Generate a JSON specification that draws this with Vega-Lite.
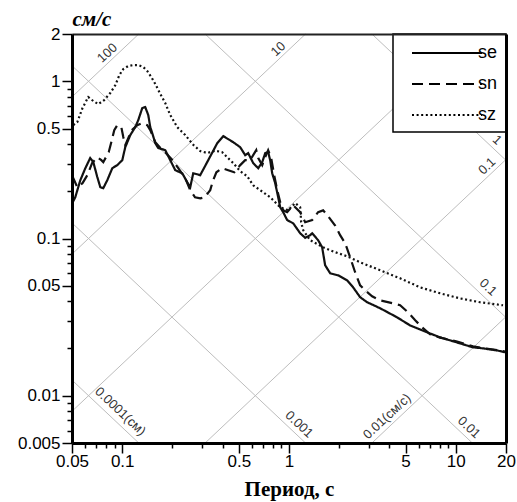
{
  "$schema": "https://vega.github.io/schema/vega-lite/v6.json",
  "width": 434,
  "height": 409,
  "autosize": {"type": "none"},
  "padding": {"left": 72, "top": 34, "right": 11, "bottom": 59},
  "background": "white",
  "config": {
    "view": {"stroke": null},
    "legend": {
      "orient": "top-right",
      "offset": 0,
      "strokeColor": "black",
      "strokeWidth": 1.5,
      "fillColor": "white",
      "padding": 8,
      "symbolType": "M-3.5,0L3.5,0",
      "symbolSize": 400,
      "symbolStrokeWidth": 2,
      "symbolStrokeColor": "black",
      "symbolOffset": 35,
      "labelOffset": 20,
      "labelFont": "Liberation Sans",
      "labelFontSize": 18,
      "labelColor": "black",
      "rowPadding": 11
    }
  },
  "resolve": {"axis": {"x": "independent", "y": "independent"}},
  "datasets": {
    "grid": [
      {"g": "a100", "T": 0.05, "V": 0.7958}, {"g": "a100", "T": 0.12566, "V": 2},
      {"g": "a10", "T": 0.05, "V": 0.07958}, {"g": "a10", "T": 1.2566, "V": 2},
      {"g": "a1", "T": 0.05, "V": 0.007958}, {"g": "a1", "T": 12.566, "V": 2},
      {"g": "a0.1", "T": 0.31416, "V": 0.005}, {"g": "a0.1", "T": 20, "V": 0.31831},
      {"g": "a0.01", "T": 3.1416, "V": 0.005}, {"g": "a0.01", "T": 20, "V": 0.031831},
      {"g": "d1", "T": 3.1416, "V": 2}, {"g": "d1", "T": 20, "V": 0.31416},
      {"g": "d0.1", "T": 0.31416, "V": 2}, {"g": "d0.1", "T": 20, "V": 0.031416},
      {"g": "d0.01", "T": 0.05, "V": 1.2566}, {"g": "d0.01", "T": 12.566, "V": 0.005},
      {"g": "d0.001", "T": 0.05, "V": 0.12566}, {"g": "d0.001", "T": 1.2566, "V": 0.005},
      {"g": "d0.0001", "T": 0.05, "V": 0.012566}, {"g": "d0.0001", "T": 0.12566, "V": 0.005}
    ],
    "labels": [
      {"k": "acc", "T": 0.0814, "V": 1.513, "text": "100"},
      {"k": "acc", "T": 0.8614, "V": 1.605, "text": "10"},
      {"k": "acc", "T": 15.39, "V": 0.2885, "text": "0.1"},
      {"k": "acc", "T": 3.872, "V": 0.00738, "text": "0.01(см/с)"},
      {"k": "dis", "T": 17.67, "V": 0.423, "text": "1"},
      {"k": "dis", "T": 15.61, "V": 0.0489, "text": "0.1"},
      {"k": "dis", "T": 12.01, "V": 0.00628, "text": "0.01"},
      {"k": "dis", "T": 1.15, "V": 0.00656, "text": "0.001"},
      {"k": "dis", "T": 0.0974, "V": 0.00794, "text": "0.0001(см)"}
    ],
    "curves": [
      {"s": "se", "T": 0.0502, "V": 0.168}, {"s": "se", "T": 0.0523, "V": 0.183}, {"s": "se", "T": 0.0561, "V": 0.235},
      {"s": "se", "T": 0.0601, "V": 0.28}, {"s": "se", "T": 0.0643, "V": 0.325}, {"s": "se", "T": 0.0671, "V": 0.306},
      {"s": "se", "T": 0.0709, "V": 0.246}, {"s": "se", "T": 0.0739, "V": 0.212}, {"s": "se", "T": 0.077, "V": 0.209},
      {"s": "se", "T": 0.0814, "V": 0.235}, {"s": "se", "T": 0.0872, "V": 0.28}, {"s": "se", "T": 0.0934, "V": 0.293},
      {"s": "se", "T": 0.1001, "V": 0.315}, {"s": "se", "T": 0.1043, "V": 0.381}, {"s": "se", "T": 0.1118, "V": 0.455},
      {"s": "se", "T": 0.1197, "V": 0.511}, {"s": "se", "T": 0.1248, "V": 0.566}, {"s": "se", "T": 0.1319, "V": 0.676},
      {"s": "se", "T": 0.1374, "V": 0.686}, {"s": "se", "T": 0.1433, "V": 0.61}, {"s": "se", "T": 0.1473, "V": 0.511},
      {"s": "se", "T": 0.1514, "V": 0.468}, {"s": "se", "T": 0.1579, "V": 0.404}, {"s": "se", "T": 0.1645, "V": 0.376},
      {"s": "se", "T": 0.1811, "V": 0.365}, {"s": "se", "T": 0.1941, "V": 0.315}, {"s": "se", "T": 0.208, "V": 0.272},
      {"s": "se", "T": 0.2291, "V": 0.26}, {"s": "se", "T": 0.2454, "V": 0.228}, {"s": "se", "T": 0.2558, "V": 0.212},
      {"s": "se", "T": 0.2666, "V": 0.26}, {"s": "se", "T": 0.2936, "V": 0.253}, {"s": "se", "T": 0.3279, "V": 0.315},
      {"s": "se", "T": 0.3714, "V": 0.404}, {"s": "se", "T": 0.4035, "V": 0.448}, {"s": "se", "T": 0.463, "V": 0.41},
      {"s": "se", "T": 0.5098, "V": 0.381}, {"s": "se", "T": 0.5463, "V": 0.339}, {"s": "se", "T": 0.5694, "V": 0.349},
      {"s": "se", "T": 0.61, "V": 0.302}, {"s": "se", "T": 0.6536, "V": 0.28}, {"s": "se", "T": 0.6908, "V": 0.306},
      {"s": "se", "T": 0.72, "V": 0.349}, {"s": "se", "T": 0.7503, "V": 0.354}, {"s": "se", "T": 0.7714, "V": 0.315},
      {"s": "se", "T": 0.793, "V": 0.26}, {"s": "se", "T": 0.8265, "V": 0.225}, {"s": "se", "T": 0.8614, "V": 0.183},
      {"s": "se", "T": 0.8855, "V": 0.158}, {"s": "se", "T": 0.9231, "V": 0.147}, {"s": "se", "T": 0.975, "V": 0.131},
      {"s": "se", "T": 1.059, "V": 0.125}, {"s": "se", "T": 1.167, "V": 0.108}, {"s": "se", "T": 1.25, "V": 0.101},
      {"s": "se", "T": 1.339, "V": 0.105}, {"s": "se", "T": 1.377, "V": 0.108}, {"s": "se", "T": 1.495, "V": 0.0975},
      {"s": "se", "T": 1.58, "V": 0.088}, {"s": "se", "T": 1.647, "V": 0.0676}, {"s": "se", "T": 1.765, "V": 0.0601},
      {"s": "se", "T": 1.971, "V": 0.0583}, {"s": "se", "T": 2.231, "V": 0.0542}, {"s": "se", "T": 2.424, "V": 0.0489},
      {"s": "se", "T": 2.67, "V": 0.0423}, {"s": "se", "T": 2.941, "V": 0.0393}, {"s": "se", "T": 3.518, "V": 0.036},
      {"s": "se", "T": 4.449, "V": 0.0315}, {"s": "se", "T": 5.32, "V": 0.028}, {"s": "se", "T": 6.729, "V": 0.0253},
      {"s": "se", "T": 8.051, "V": 0.0235}, {"s": "se", "T": 10.18, "V": 0.0218}, {"s": "se", "T": 12.69, "V": 0.0203},
      {"s": "se", "T": 14.57, "V": 0.02}, {"s": "se", "T": 17.67, "V": 0.0194}, {"s": "se", "T": 19.74, "V": 0.0189},
      {"s": "sn", "T": 0.0502, "V": 0.25}, {"s": "sn", "T": 0.0538, "V": 0.212}, {"s": "sn", "T": 0.0578, "V": 0.225},
      {"s": "sn", "T": 0.0618, "V": 0.253}, {"s": "sn", "T": 0.066, "V": 0.302}, {"s": "sn", "T": 0.0709, "V": 0.329},
      {"s": "sn", "T": 0.075, "V": 0.315}, {"s": "sn", "T": 0.077, "V": 0.306}, {"s": "sn", "T": 0.083, "V": 0.354},
      {"s": "sn", "T": 0.086, "V": 0.41}, {"s": "sn", "T": 0.0896, "V": 0.489}, {"s": "sn", "T": 0.0934, "V": 0.526},
      {"s": "sn", "T": 0.0988, "V": 0.511}, {"s": "sn", "T": 0.1015, "V": 0.442}, {"s": "sn", "T": 0.1043, "V": 0.393},
      {"s": "sn", "T": 0.1087, "V": 0.435}, {"s": "sn", "T": 0.1141, "V": 0.489}, {"s": "sn", "T": 0.1231, "V": 0.526},
      {"s": "sn", "T": 0.1319, "V": 0.542}, {"s": "sn", "T": 0.1413, "V": 0.526}, {"s": "sn", "T": 0.1473, "V": 0.489},
      {"s": "sn", "T": 0.1579, "V": 0.41}, {"s": "sn", "T": 0.1694, "V": 0.376}, {"s": "sn", "T": 0.1811, "V": 0.354},
      {"s": "sn", "T": 0.2006, "V": 0.315}, {"s": "sn", "T": 0.2168, "V": 0.28}, {"s": "sn", "T": 0.2387, "V": 0.242},
      {"s": "sn", "T": 0.2558, "V": 0.203}, {"s": "sn", "T": 0.2734, "V": 0.183}, {"s": "sn", "T": 0.2936, "V": 0.18},
      {"s": "sn", "T": 0.312, "V": 0.183}, {"s": "sn", "T": 0.337, "V": 0.203}, {"s": "sn", "T": 0.351, "V": 0.235},
      {"s": "sn", "T": 0.367, "V": 0.264}, {"s": "sn", "T": 0.398, "V": 0.28}, {"s": "sn", "T": 0.432, "V": 0.272},
      {"s": "sn", "T": 0.47, "V": 0.264}, {"s": "sn", "T": 0.51, "V": 0.293}, {"s": "sn", "T": 0.546, "V": 0.315},
      {"s": "sn", "T": 0.585, "V": 0.315}, {"s": "sn", "T": 0.61, "V": 0.339}, {"s": "sn", "T": 0.636, "V": 0.365},
      {"s": "sn", "T": 0.654, "V": 0.325}, {"s": "sn", "T": 0.691, "V": 0.293}, {"s": "sn", "T": 0.72, "V": 0.329},
      {"s": "sn", "T": 0.75, "V": 0.365}, {"s": "sn", "T": 0.782, "V": 0.325}, {"s": "sn", "T": 0.815, "V": 0.253},
      {"s": "sn", "T": 0.85, "V": 0.203}, {"s": "sn", "T": 0.886, "V": 0.17}, {"s": "sn", "T": 0.923, "V": 0.151},
      {"s": "sn", "T": 0.975, "V": 0.147}, {"s": "sn", "T": 1.059, "V": 0.163}, {"s": "sn", "T": 1.167, "V": 0.147},
      {"s": "sn", "T": 1.25, "V": 0.127}, {"s": "sn", "T": 1.377, "V": 0.131}, {"s": "sn", "T": 1.495, "V": 0.147},
      {"s": "sn", "T": 1.602, "V": 0.151}, {"s": "sn", "T": 1.693, "V": 0.141}, {"s": "sn", "T": 1.891, "V": 0.121},
      {"s": "sn", "T": 2.026, "V": 0.105}, {"s": "sn", "T": 2.171, "V": 0.0933}, {"s": "sn", "T": 2.325, "V": 0.076},
      {"s": "sn", "T": 2.491, "V": 0.061}, {"s": "sn", "T": 2.67, "V": 0.0504}, {"s": "sn", "T": 2.861, "V": 0.0468},
      {"s": "sn", "T": 3.15, "V": 0.0429}, {"s": "sn", "T": 3.518, "V": 0.0404}, {"s": "sn", "T": 4.209, "V": 0.0387},
      {"s": "sn", "T": 4.637, "V": 0.0376}, {"s": "sn", "T": 5.17, "V": 0.0339}, {"s": "sn", "T": 5.71, "V": 0.0302},
      {"s": "sn", "T": 6.28, "V": 0.0272}, {"s": "sn", "T": 7.014, "V": 0.0246}, {"s": "sn", "T": 8.05, "V": 0.0234},
      {"s": "sn", "T": 10.18, "V": 0.0221}, {"s": "sn", "T": 12.69, "V": 0.0206}, {"s": "sn", "T": 14.98, "V": 0.02},
      {"s": "sn", "T": 17.67, "V": 0.0195}, {"s": "sn", "T": 19.74, "V": 0.0191},
      {"s": "sz", "T": 0.0509, "V": 0.526}, {"s": "sz", "T": 0.0538, "V": 0.55}, {"s": "sz", "T": 0.0578, "V": 0.676},
      {"s": "sz", "T": 0.0626, "V": 0.794}, {"s": "sz", "T": 0.0671, "V": 0.749}, {"s": "sz", "T": 0.0719, "V": 0.716},
      {"s": "sz", "T": 0.078, "V": 0.76}, {"s": "sz", "T": 0.0848, "V": 0.842}, {"s": "sz", "T": 0.091, "V": 0.946},
      {"s": "sz", "T": 0.0962, "V": 1.097}, {"s": "sz", "T": 0.1015, "V": 1.197}, {"s": "sz", "T": 0.1087, "V": 1.251},
      {"s": "sz", "T": 0.1165, "V": 1.269}, {"s": "sz", "T": 0.1248, "V": 1.269}, {"s": "sz", "T": 0.1337, "V": 1.233},
      {"s": "sz", "T": 0.1413, "V": 1.162}, {"s": "sz", "T": 0.1494, "V": 1.065}, {"s": "sz", "T": 0.1579, "V": 0.961},
      {"s": "sz", "T": 0.1694, "V": 0.829}, {"s": "sz", "T": 0.1811, "V": 0.727}, {"s": "sz", "T": 0.1941, "V": 0.61},
      {"s": "sz", "T": 0.2138, "V": 0.511}, {"s": "sz", "T": 0.2387, "V": 0.455}, {"s": "sz", "T": 0.2666, "V": 0.395},
      {"s": "sz", "T": 0.2936, "V": 0.36}, {"s": "sz", "T": 0.3234, "V": 0.35}, {"s": "sz", "T": 0.3613, "V": 0.362},
      {"s": "sz", "T": 0.3979, "V": 0.354}, {"s": "sz", "T": 0.426, "V": 0.329}, {"s": "sz", "T": 0.463, "V": 0.302},
      {"s": "sz", "T": 0.5098, "V": 0.268}, {"s": "sz", "T": 0.5616, "V": 0.249}, {"s": "sz", "T": 0.61, "V": 0.218},
      {"s": "sz", "T": 0.672, "V": 0.203}, {"s": "sz", "T": 0.7714, "V": 0.183}, {"s": "sz", "T": 0.8855, "V": 0.158},
      {"s": "sz", "T": 0.9886, "V": 0.151}, {"s": "sz", "T": 1.089, "V": 0.168}, {"s": "sz", "T": 1.167, "V": 0.158},
      {"s": "sz", "T": 1.183, "V": 0.127}, {"s": "sz", "T": 1.216, "V": 0.113}, {"s": "sz", "T": 1.339, "V": 0.0975},
      {"s": "sz", "T": 1.602, "V": 0.088}, {"s": "sz", "T": 1.891, "V": 0.0818}, {"s": "sz", "T": 2.231, "V": 0.0771},
      {"s": "sz", "T": 2.67, "V": 0.0706}, {"s": "sz", "T": 3.518, "V": 0.0628}, {"s": "sz", "T": 4.637, "V": 0.0558},
      {"s": "sz", "T": 6.108, "V": 0.0489}, {"s": "sz", "T": 8.051, "V": 0.0448}, {"s": "sz", "T": 10.61, "V": 0.0416},
      {"s": "sz", "T": 13.98, "V": 0.0393}, {"s": "sz", "T": 19.2, "V": 0.0376}
    ]
  },
  "layer": [
    {
      "data": {"name": "grid"},
      "mark": {"type": "line", "color": "#bdbdbd", "strokeWidth": 1},
      "encoding": {
        "x": {
          "field": "T", "type": "quantitative",
          "scale": {"type": "log", "domain": [0.05, 20], "nice": false},
          "axis": {
            "orient": "bottom", "title": null, "labels": false, "domain": false, "ticks": true, "grid": false, "zindex": 1,
            "values": [0.06, 0.07, 0.08, 0.09, 0.2, 0.3, 0.4, 0.6, 0.7, 0.8, 0.9, 2, 3, 4, 6, 7, 8, 9],
            "tickSize": 5, "tickColor": "black", "tickWidth": 1.5
          }
        },
        "y": {
          "field": "V", "type": "quantitative",
          "scale": {"type": "log", "domain": [0.005, 2], "nice": false},
          "axis": {
            "orient": "left", "title": null, "labels": false, "domain": false, "ticks": true, "grid": false, "zindex": 1,
            "values": [0.006, 0.007, 0.008, 0.009, 0.02, 0.03, 0.04, 0.06, 0.07, 0.08, 0.09, 0.2, 0.3, 0.4, 0.6, 0.7, 0.8, 0.9],
            "tickSize": 5, "tickColor": "black", "tickWidth": 1.5
          }
        },
        "detail": {"field": "g"}
      }
    },
    {
      "data": {"name": "labels"},
      "transform": [{"filter": "datum.k === 'acc'"}],
      "mark": {"type": "text", "angle": 317, "font": "Liberation Sans", "fontSize": 13, "color": "#333", "align": "center", "baseline": "middle"},
      "encoding": {
        "x": {"field": "T", "type": "quantitative",
              "axis": {"orient": "top", "title": null, "labels": false, "ticks": false, "grid": false, "domain": true, "domainColor": "#222", "domainWidth": 2, "zindex": 1}},
        "y": {"field": "V", "type": "quantitative",
              "axis": {"orient": "right", "title": null, "labels": false, "ticks": false, "grid": false, "domain": true, "domainColor": "black", "domainWidth": 3, "zindex": 1}},
        "text": {"field": "text"}
      }
    },
    {
      "data": {"name": "labels"},
      "transform": [{"filter": "datum.k === 'dis'"}],
      "mark": {"type": "text", "angle": 43, "font": "Liberation Sans", "fontSize": 13, "color": "#333", "align": "center", "baseline": "middle"},
      "encoding": {
        "x": {"field": "T", "type": "quantitative", "axis": null},
        "y": {"field": "V", "type": "quantitative", "axis": null},
        "text": {"field": "text"}
      }
    },
    {
      "data": {"name": "curves"},
      "mark": {"type": "line", "color": "#111", "strokeWidth": 2.2},
      "encoding": {
        "x": {
          "field": "T", "type": "quantitative",
          "scale": {"type": "log", "domain": [0.05, 20], "nice": false},
          "axis": {
            "orient": "bottom",
            "title": "Период, с",
            "values": [0.05, 0.1, 0.5, 1, 5, 10, 20],
            "format": "~g",
            "ticks": true, "domain": true, "zindex": 1,
            "tickSize": 10, "tickColor": "black", "tickWidth": 1.5,
            "domainColor": "black", "domainWidth": 3,
            "grid": false,
            "labelFont": "Liberation Sans", "labelFontSize": 17, "labelColor": "black",
            "labelPadding": 0, "labelFlush": false, "labelOverlap": false,
            "titleFont": "Liberation Serif", "titleFontSize": 21, "titleFontWeight": "bold", "titleColor": "black",
            "titleBaseline": "alphabetic", "titleY": 52
          }
        },
        "y": {
          "field": "V", "type": "quantitative",
          "scale": {"type": "log", "domain": [0.005, 2], "nice": false},
          "axis": {
            "orient": "left",
            "title": "см/с",
            "values": [0.005, 0.01, 0.05, 0.1, 0.5, 1, 2],
            "format": "~g",
            "ticks": true, "domain": true, "zindex": 1,
            "tickSize": 10, "tickColor": "black", "tickWidth": 1.5,
            "domainColor": "black", "domainWidth": 3,
            "grid": false,
            "labelFont": "Liberation Sans", "labelFontSize": 17, "labelColor": "black",
            "labelPadding": 2, "labelFlush": false, "labelOverlap": false,
            "titleFont": "Liberation Serif", "titleFontSize": 21, "titleFontWeight": "bold", "titleFontStyle": "italic", "titleColor": "black",
            "titleAngle": 0, "titleAlign": "left", "titleBaseline": "alphabetic", "titleX": 0, "titleY": -9
          }
        },
        "strokeDash": {
          "field": "s",
          "type": "nominal",
          "title": null,
          "scale": {"domain": ["se", "sn", "sz"], "range": [[1, 0], [11, 6], [2, 2.6]]}
        }
      }
    }
  ]
}
